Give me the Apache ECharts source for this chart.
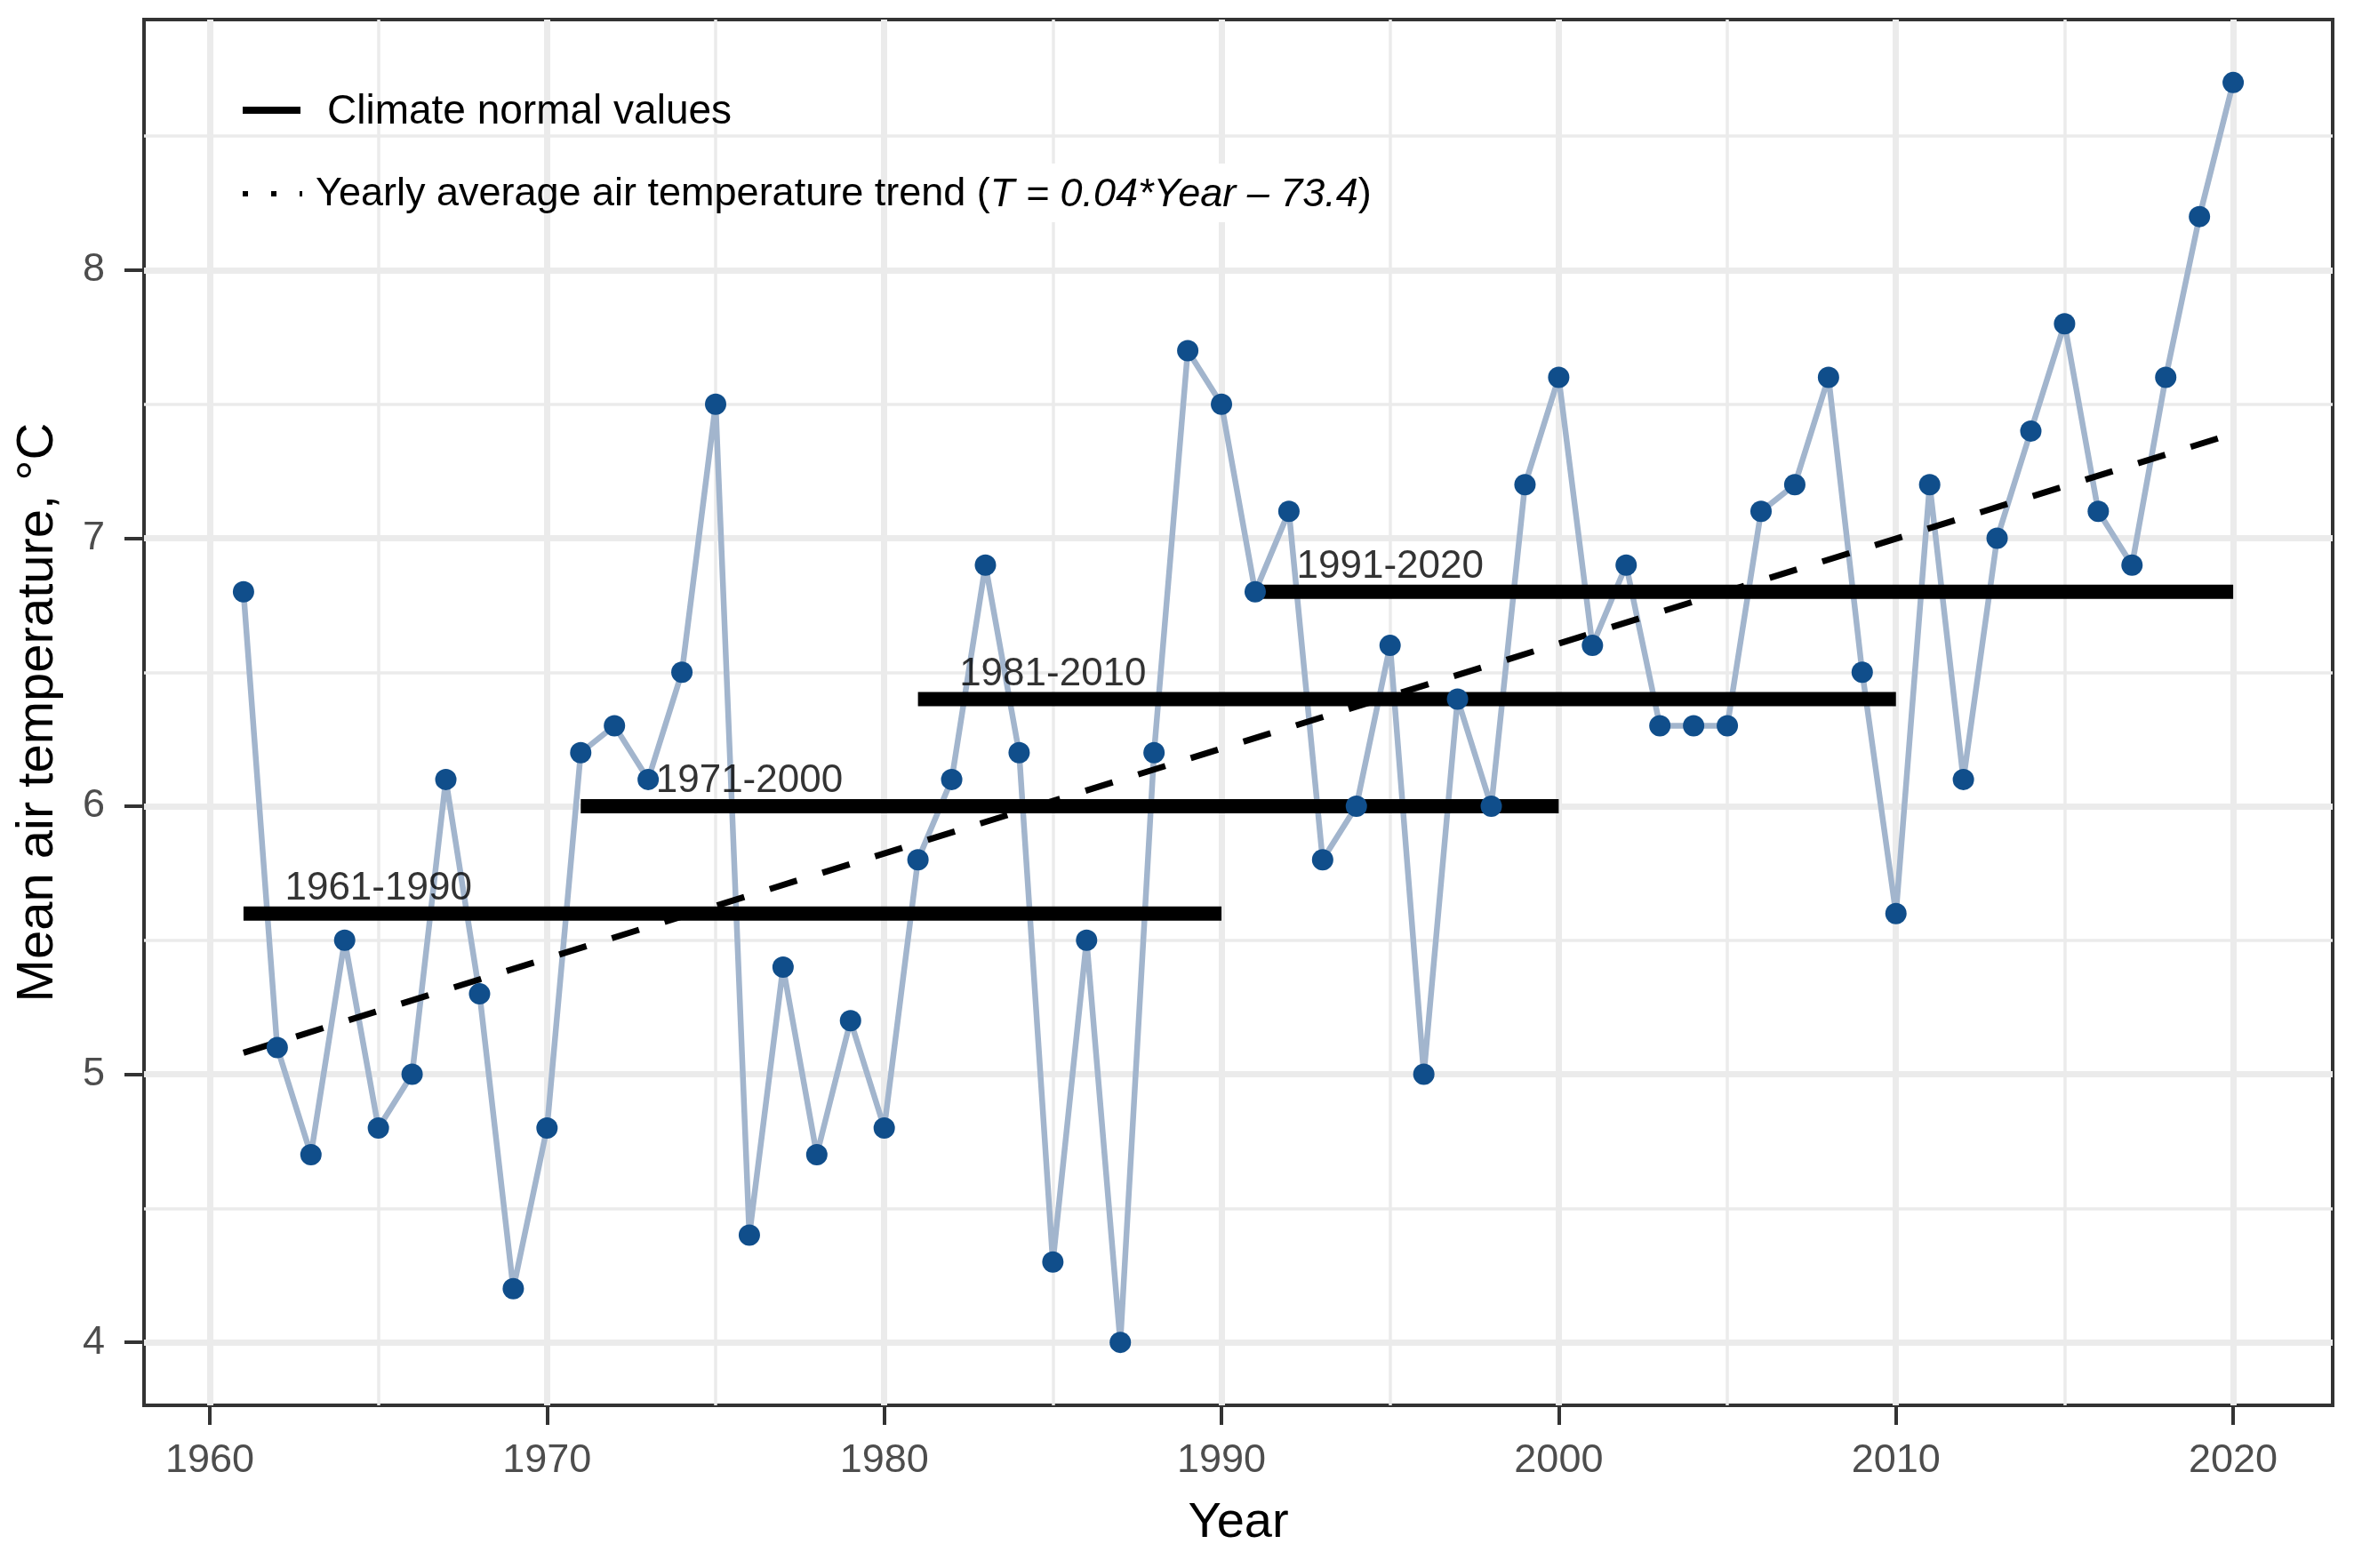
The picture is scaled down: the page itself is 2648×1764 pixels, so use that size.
<!DOCTYPE html>
<html>
<head>
<meta charset="utf-8">
<script src="https://cdn.jsdelivr.net/npm/echarts@6/dist/echarts.min.js"></script>
<style>
html,body{margin:0;padding:0;background:#fff;}
#chart{width:2648px;height:1764px;}
</style>
</head>
<body>
<div id="chart"></div>
<script>
// ---- data ----
var years = [1961,1962,1963,1964,1965,1966,1967,1968,1969,1970,
             1971,1972,1973,1974,1975,1976,1977,1978,1979,1980,
             1981,1982,1983,1984,1985,1986,1987,1988,1989,1990,
             1991,1992,1993,1994,1995,1996,1997,1998,1999,2000,
             2001,2002,2003,2004,2005,2006,2007,2008,2009,2010,
             2011,2012,2013,2014,2015,2016,2017,2018,2019,2020];
var temps = [6.8,5.1,4.7,5.5,4.8,5.0,6.1,5.3,4.2,4.8,
             6.2,6.3,6.1,6.5,7.5,4.4,5.4,4.7,5.2,4.8,
             5.8,6.1,6.9,6.2,4.3,5.5,4.0,6.2,7.7,7.5,
             6.8,7.1,5.8,6.0,6.6,5.0,6.4,6.0,7.2,7.6,
             6.6,6.9,6.3,6.3,6.3,7.1,7.2,7.6,6.5,5.6,
             7.2,6.1,7.0,7.4,7.8,7.1,6.9,7.6,8.2,8.7];

var normalPeriods = ['1961-1990','1971-2000','1981-2010','1991-2020'];
var normalStart   = [1961,1971,1981,1991];
var normalEnd     = [1990,2000,2010,2020];
var normalValue   = [5.6,6.0,6.4,6.8];
var normalLabelX  = [1965,1976,1985,1995];

var trendYears  = [1961,2020];
var trendValues = [5.08,7.39];

var xTicks = [1960,1970,1980,1990,2000,2010,2020];
var yTicks = [4,5,6,7,8];
var xMinor = [1965,1975,1985,1995,2005,2015];
var yMinor = [4.5,5.5,6.5,7.5,8.5];

var legendLine1 = 'Climate normal values';
var legendLine2a = 'Yearly average air temperature trend (';
var legendLine2b = 'T = 0.04*Year \u2013 73.4';
var legendLine2c = ')';

// ggplot-like 5% expansion
var xLo = Math.min.apply(null, years), xHi = Math.max.apply(null, years);
var yLo = Math.min.apply(null, temps), yHi = Math.max.apply(null, temps);
var xMin = xLo - 0.05*(xHi-xLo), xMax = xHi + 0.05*(xHi-xLo);
var yMin = yLo - 0.05*(yHi-yLo), yMax = yHi + 0.05*(yHi-yLo);

var FONT = 'Liberation Sans, Arial, sans-serif';
var chart = echarts.init(document.getElementById('chart'), null, {renderer:'canvas'});

var gridLines = [];
xTicks.forEach(function(v){ gridLines.push({xAxis:v, lineStyle:{width:7}}); });
yTicks.forEach(function(v){ gridLines.push({yAxis:v, lineStyle:{width:7}}); });
xMinor.forEach(function(v){ gridLines.push({xAxis:v, lineStyle:{width:3.5}}); });
yMinor.forEach(function(v){ gridLines.push({yAxis:v, lineStyle:{width:3.5}}); });

var series = [];
series.push({
  type:'line', z:1, silent:true, symbol:'none',
  data:[[xMin,yMin]], lineStyle:{opacity:0},
  markLine:{z:1, silent:true, symbol:['none','none'], label:{show:false}, animation:false,
    lineStyle:{color:'#EBEBEB', type:'solid'}, data:gridLines}
});
series.push({
  type:'line', z:2, silent:true, symbol:'none',
  data: years.map(function(y,i){ return [y, temps[i]]; }),
  lineStyle:{color:'#A2B5CD', width:6.5}
});
normalPeriods.forEach(function(p,i){
  series.push({
    type:'line', z:3, silent:true, symbol:'none',
    data:[[normalStart[i], normalValue[i]],[normalEnd[i], normalValue[i]]],
    lineStyle:{color:'#000', width:16, cap:'butt'}
  });
});
series.push({
  type:'line', z:4, silent:true, symbol:'none',
  data: trendYears.map(function(y,i){ return [y, trendValues[i]]; }),
  lineStyle:{color:'#000', width:7, type:[32,30], cap:'butt'}
});
series.push({
  type:'scatter', z:5, silent:true, symbolSize:0,
  data: normalPeriods.map(function(p,i){ return {value:[normalLabelX[i], normalValue[i]], name:p}; }),
  label:{show:true, position:'top', distance:6, formatter:function(d){return d.name;},
    fontFamily:FONT, fontSize:44, color:'#000'}
});
series.push({
  type:'scatter', z:6, silent:true, symbol:'circle', symbolSize:24,
  data: years.map(function(y,i){ return [y, temps[i]]; }),
  itemStyle:{color:'#104E8B', opacity:1}
});

var option = {
  animation:false,
  backgroundColor:'#fff',
  grid:{left:162, right:24, top:22, bottom:183, show:true, borderColor:'#333333', borderWidth:4,
        backgroundColor:'#fff', containLabel:false, outerBoundsMode:'none'},
  xAxis:{
    type:'value', min:xMin, max:xMax,
    axisLine:{show:false},
    axisTick:{show:true, customValues:xTicks, length:22, inside:false, lineStyle:{color:'#333333', width:4}},
    axisLabel:{show:true, customValues:xTicks, margin:40, fontFamily:FONT, fontSize:45, color:'#4D4D4D',
      formatter:function(v){return String(v);}},
    splitLine:{show:false}, minorSplitLine:{show:false},
    name:'Year', nameLocation:'middle', nameGap:105,
    nameTextStyle:{fontFamily:FONT, fontSize:56, color:'#000'}
  },
  yAxis:{
    type:'value', min:yMin, max:yMax,
    axisLine:{show:false},
    axisTick:{show:true, customValues:yTicks, length:22, inside:false, lineStyle:{color:'#333333', width:4}},
    axisLabel:{show:true, customValues:yTicks, margin:44, fontFamily:FONT, fontSize:45, color:'#4D4D4D',
      formatter:function(v){return String(v);}},
    splitLine:{show:false}, minorSplitLine:{show:false},
    name:'Mean air temperature, \u00B0C', nameLocation:'middle', nameGap:90,
    nameTextStyle:{fontFamily:FONT, fontSize:58, color:'#000'}
  },
  graphic:[
    {type:'line', z:100, shape:{x1:273,y1:124,x2:338,y2:124}, style:{stroke:'#000', lineWidth:8}},
    {type:'text', z:100, x:368, y:126, style:{text:legendLine1, fontFamily:FONT, fontSize:46, fill:'#000',
      textVerticalAlign:'middle', verticalAlign:'middle'}},
    {type:'line', z:100, shape:{x1:273,y1:218,x2:340,y2:218}, style:{stroke:'#000', lineWidth:6, lineDash:[6,26]}},
    {type:'rect', z:99, shape:{x:1108,y:184,width:444,height:66}, style:{fill:'#fff'}},
    {type:'text', z:100, x:355, y:219, style:{
      text:legendLine2a + '{i|' + legendLine2b + '}' + legendLine2c,
      fontFamily:FONT, fontSize:45, fill:'#000', verticalAlign:'middle', textVerticalAlign:'middle',
      rich:{i:{fontFamily:FONT, fontSize:45, fontStyle:'italic', fill:'#000', color:'#000'}}
    }}
  ],
  series:series
};
chart.setOption(option);
</script>
</body>
</html>
